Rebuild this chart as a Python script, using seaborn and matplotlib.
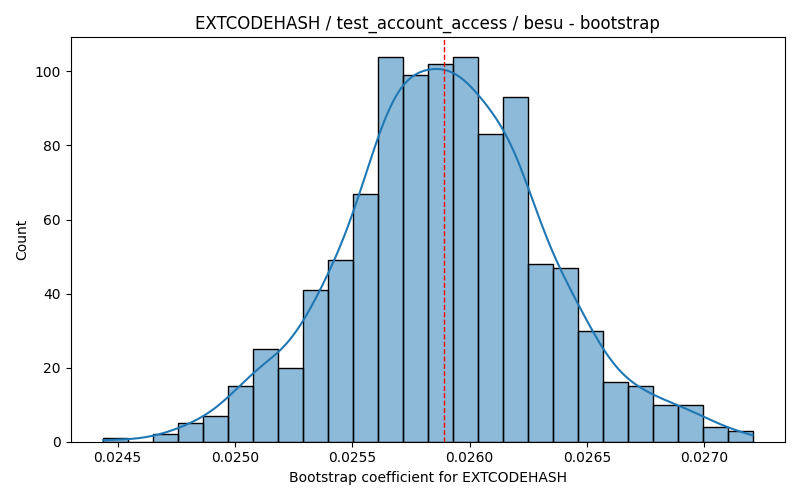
import numpy as np
import seaborn as sns
from matplotlib import pyplot as plt

# bootstrap coefficient histogram
bin_lo = 0.024438
bin_hi = 0.0272055
bin_centers = [0.0244912, 0.0245976, 0.0247041, 0.0248105, 0.0249170, 0.0250234,
               0.0251298, 0.0252363, 0.0253427, 0.0254492, 0.0255556, 0.0256620,
               0.0257685, 0.0258749, 0.0259814, 0.0260878, 0.0261942, 0.0263007,
               0.0264071, 0.0265136, 0.0266200, 0.0267264, 0.0268329, 0.0269393,
               0.0270458, 0.0271522]
counts = [1, 0, 2, 5, 7, 15, 25, 20, 41, 49, 67, 104, 99, 102, 104, 83, 93,
          48, 47, 30, 16, 15, 10, 10, 4, 3]
point_estimate = 0.025891

samples = np.repeat(bin_centers, counts)

fig, ax = plt.subplots(figsize=(8, 5))
sns.histplot(x=samples, bins=len(counts), binrange=(bin_lo, bin_hi), kde=True,
             kde_kws={"cut": 3, "clip": (bin_lo, bin_hi)}, ax=ax)
ax.axvline(point_estimate, color="red", linestyle="--", linewidth=1)
ax.set_title("EXTCODEHASH / test_account_access / besu - bootstrap")
ax.set_xlabel("Bootstrap coefficient for EXTCODEHASH")
ax.set_ylabel("Count")
fig.tight_layout()
fig.savefig("out.png", dpi=100)
